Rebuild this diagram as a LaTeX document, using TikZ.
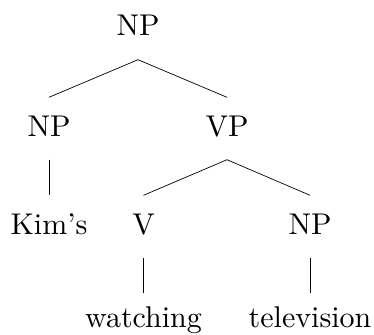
\documentclass[tikz,border=0pt]{standalone}
\usepackage{fontspec}
\setmainfont{lmroman10-regular}[Extension=.otf]
\begin{document}
\begin{tikzpicture}[x=1pt,y=-1pt,
  lab/.style={anchor=base,inner xsep=0pt,inner ysep=17.5pt,text height=21pt,text depth=6pt,font=\fontsize{30}{36}\selectfont},
  leaf/.style={lab,inner ysep=13pt},
  br/.style={line width=0.7pt}]
\useasboundingbox (0,0) rectangle (374,334);
\node[lab] (np0) at (138,36) {NP};
\node[lab] (np1) at (49,136) {NP};
\node[lab] (vp) at (227,136) {VP};
\node[lab] (kim) at (49,234) {Kim's};
\node[lab] (v) at (143.5,234) {V};
\node[lab] (np2) at (310,234) {NP};
\node[leaf] (wat) at (143.5,327) {watching};
\node[leaf] (tel) at (310,327) {television};
\draw[br] (np0.south) -- (np1.north);
\draw[br] (np0.south) -- (vp.north);
\draw[br] (np1.south) -- (kim.north);
\draw[br] (vp.south) -- (v.north);
\draw[br] (vp.south) -- (np2.north);
\draw[br] (v.south) -- (wat.north);
\draw[br] (np2.south) -- (tel.north);
\end{tikzpicture}
\end{document}
